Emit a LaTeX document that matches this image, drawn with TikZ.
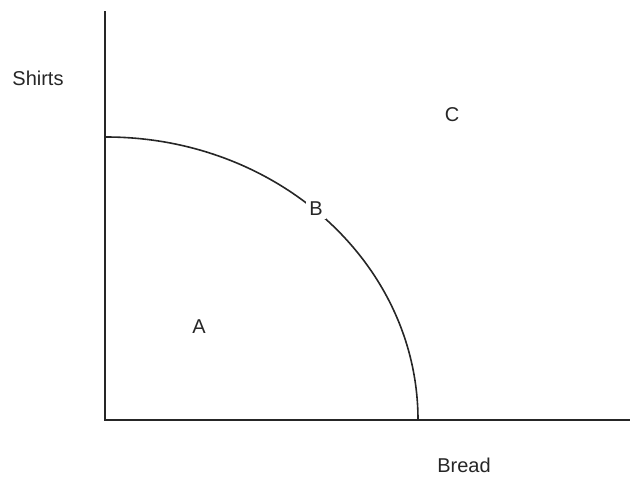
\documentclass[tikz,border=0pt]{standalone}
\usepackage{fontspec}
\setmainfont{Liberation Sans}
\begin{document}
\begin{tikzpicture}[x=1pt,y=-1pt,
  axis/.style={line width=1.8pt, draw=black!85},
  curve/.style={line width=1.6pt, draw=black!85},
  lbl/.style={font=\fontsize{20}{23}\selectfont, inner sep=1pt, text=black!85}]
\useasboundingbox (0,0) rectangle (634,477);
\coordinate (top) at (105,11);
\coordinate (origin) at (105,420);
\coordinate (xend) at (630,420);
\coordinate (cstart) at (106,137);
\draw[axis] (top) -- (origin) -- (xend);
\draw[curve] (cstart) arc[start angle=90, end angle=0, x radius=312, y radius=-283];
\node[lbl] (shirts) at (38,78) {Shirts};
\node[lbl] (c) at (452,115) {C};
\node[lbl, fill=white, inner sep=3pt] (b) at (316,209) {B};
\node[lbl] (a) at (199,327) {A};
\node[lbl] (bread) at (464,465) {Bread};
\end{tikzpicture}
\end{document}
